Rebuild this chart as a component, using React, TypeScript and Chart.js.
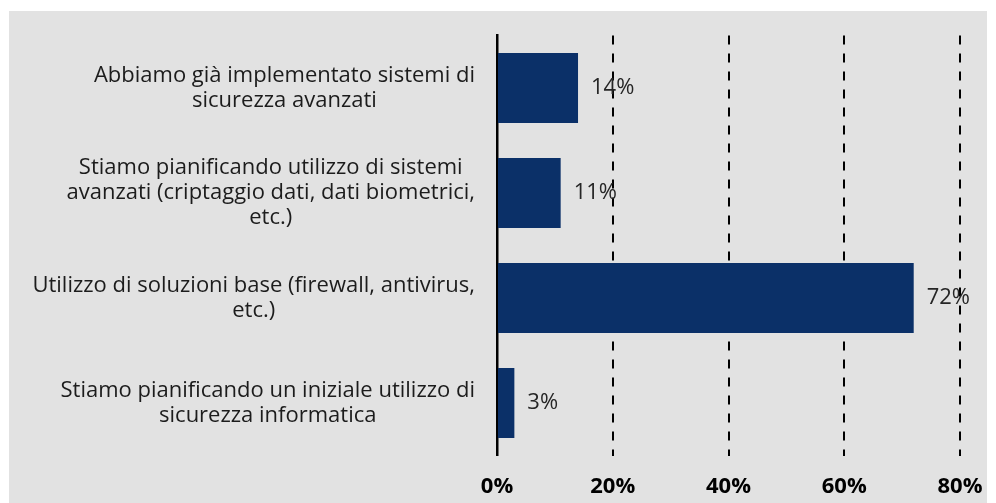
import React, { useEffect, useRef } from "react";
import { Chart, registerables } from "chart.js";

Chart.register(...registerables);

const categories: string[][] = [
  ["Abbiamo già implementato sistemi di", "sicurezza avanzati"],
  ["Stiamo pianificando utilizzo di sistemi", "avanzati (criptaggio dati, dati biometrici,", "etc.)"],
  ["Utilizzo di soluzioni base (firewall, antivirus,", "etc.)"],
  ["Stiamo pianificando un iniziale utilizzo di", "sicurezza informatica"],
];
const values: number[] = [14, 11, 72, 3];
const xTicks: number[] = [0, 20, 40, 60, 80];

const FONT = "'Open Sans', 'Noto Sans', sans-serif";

export default function App() {
  const ref = useRef<HTMLCanvasElement | null>(null);
  useEffect(() => {
    if (!ref.current) return;
    const labelPlugin = {
      id: "customLabels",
      afterDatasetsDraw(chart: any) {
        const ctx = chart.ctx;
        const yScale = chart.scales.y;
        const meta = chart.getDatasetMeta(0);
        ctx.save();
        ctx.font = `22px ${FONT}`;
        ctx.fillStyle = "#1c1c1c";
        ctx.textBaseline = "middle";
        ctx.textAlign = "center";
        const lh = 25;
        categories.forEach((lines, i) => {
          const cy = yScale.getPixelForTick(i);
          const w = Math.max(...lines.map((l) => ctx.measureText(l).width));
          const right = chart.chartArea.left - 22;
          const cx = right - w / 2;
          const y0 = cy - ((lines.length - 1) * lh) / 2;
          lines.forEach((l, j) => ctx.fillText(l, cx, y0 + j * lh));
        });
        ctx.font = `22px ${FONT}`;
        ctx.fillStyle = "#262626";
        ctx.textAlign = "left";
        meta.data.forEach((bar: any, i: number) => {
          ctx.fillText(`${values[i]}%`, bar.x + 13, bar.y);
        });
        ctx.restore();
      },
    };
    const chart = new Chart(ref.current, {
      type: "bar",
      data: {
        labels: categories.map((c) => c.join(" ")),
        datasets: [
          {
            data: values,
            backgroundColor: "#0b3068",
            categoryPercentage: 1,
            barPercentage: 0.667,
          },
        ],
      },
      options: {
        indexAxis: "y",
        animation: false,
        responsive: false,
        maintainAspectRatio: false,
        layout: { padding: { top: 24.5, right: 27, left: 0, bottom: 0 } },
        plugins: { legend: { display: false }, tooltip: { enabled: false } },
        scales: {
          x: {
            min: 0,
            max: 80,
            afterBuildTicks: (scale: any) => {
              scale.ticks = xTicks.map((v) => ({ value: v }));
            },
            afterFit: (scale: any) => {
              scale.height = 47.5;
              scale.paddingLeft = 0;
              scale.paddingRight = 0;
            },
            border: { display: false, dash: [9, 9] },
            grid: {
              drawTicks: false,
              color: (c: any) => (c.tick && c.tick.value === 0 ? "rgba(0,0,0,0)" : "#000000"),
              lineWidth: 2,
            },
            ticks: {
              padding: 18,
              color: "#000000",
              font: { family: FONT, size: 22, weight: "bold" },
              callback: (v: any) => `${v}%`,
            },
          },
          y: {
            afterFit: (scale: any) => {
              scale.width = 488;
              scale.paddingTop = 0;
              scale.paddingBottom = 0;
            },
            border: { display: true, color: "#000000", width: 2.5 },
            grid: { display: false, drawTicks: false },
            ticks: { display: false },
          },
        },
      },
      plugins: [labelPlugin],
    } as any);
    return () => chart.destroy();
  }, []);
  return (
    <div
      style={{
        position: "fixed",
        left: 9,
        top: 11,
        width: 978,
        height: 492,
        background: "#e2e2e2",
      }}
    >
      <canvas ref={ref} width={978} height={492} style={{ display: "block" }} />
    </div>
  );
}
